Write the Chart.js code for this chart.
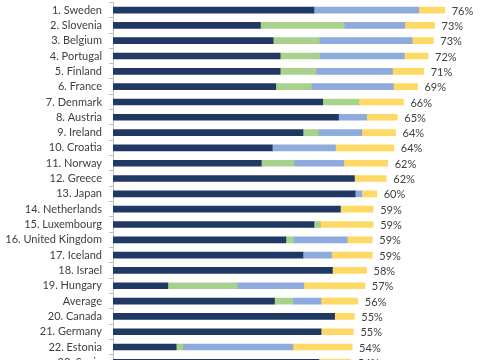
<!DOCTYPE html>
<html>
<head>
<meta charset="utf-8">
<script src="https://cdn.jsdelivr.net/npm/chart.js@4"></script>
<style>
html,body{margin:0;padding:0;background:#fff;overflow:hidden;}
#wrap{width:485px;height:360px;overflow:hidden;position:relative;}
canvas{display:block;}
</style>
</head>
<body>
<div id="wrap"><canvas id="c" width="485" height="370"></canvas></div>
<script>
const categories = ["1. Sweden","2. Slovenia","3. Belgium","4. Portugal","5. Finland","6. France","7. Denmark","8. Austria","9. Ireland","10. Croatia","11. Norway","12. Greece","13. Japan","14. Netherlands","15. Luxembourg","16. United Kingdom","17. Iceland","18. Israel","19. Hungary","Average","20. Canada","21. Germany","22. Estonia","23. Spain"];
const seriesDark   = [45.8,33.6,36.5,38.1,38.1,37.1,47.8,51.4,43.3,36.3,33.8,55.0,55.2,51.8,45.8,39.4,43.3,50.0,12.5,36.8,50.5,47.4,14.4,46.9];
const seriesGreen  = [0,19.1,10.5,9.0,8.2,8.1,8.1,0,3.5,0,7.4,0,0,0,1.4,1.7,0,0,15.8,4.2,0,0,1.5,0];
const seriesBlue   = [23.9,13.8,21.2,19.3,17.4,18.7,0,6.4,9.9,14.4,11.4,0,1.5,0,0,12.3,6.5,0,15.2,6.4,0,0,25.1,0];
const seriesYellow = [5.9,6.8,4.8,5.4,7.1,5.5,10.3,7.0,7.7,13.3,10.0,7.3,3.4,7.5,12.1,5.7,9.3,7.8,13.9,8.4,4.5,7.4,13.5,7.3];
const totalLabels  = ["76%","73%","73%","72%","71%","69%","66%","65%","64%","64%","62%","62%","60%","59%","59%","59%","59%","58%","57%","56%","55%","55%","54%","54%"];

const FONT = "Lato, 'Liberation Sans', sans-serif";

const totalsPlugin = {
  id: 'totals',
  afterDatasetsDraw(chart) {
    const ctx = chart.ctx;
    const xs = chart.scales.x, ys = chart.scales.y;
    ctx.save();
    ctx.font = "11px " + FONT;
    ctx.fillStyle = "#404040";
    ctx.textAlign = "left";
    ctx.textBaseline = "middle";
    categories.forEach((c, i) => {
      const sum = seriesDark[i] + seriesGreen[i] + seriesBlue[i] + seriesYellow[i];
      ctx.fillText(totalLabels[i], xs.getPixelForValue(sum) + 7, ys.getPixelForValue(i) + 1);
    });
    ctx.restore();
  }
};

const common = { barThickness: 6, borderWidth: 0 };
new Chart(document.getElementById('c'), {
  type: 'bar',
  data: {
    labels: categories,
    datasets: [
      Object.assign({ label: 'A', data: seriesDark, backgroundColor: '#203864' }, common),
      Object.assign({ label: 'B', data: seriesGreen, backgroundColor: '#a9d18e' }, common),
      Object.assign({ label: 'C', data: seriesBlue, backgroundColor: '#8faadc' }, common),
      Object.assign({ label: 'D', data: seriesYellow, backgroundColor: '#ffd966' }, common)
    ]
  },
  options: {
    indexAxis: 'y',
    responsive: false,
    animation: false,
    devicePixelRatio: 1,
    layout: { padding: { top: 2.4, right: 21, bottom: 0, left: 0 } },
    plugins: { legend: { display: false }, tooltip: { enabled: false } },
    scales: {
      x: { stacked: true, min: 0, max: 80, display: false },
      y: {
        stacked: true,
        grid: { drawOnChartArea: false, tickLength: 4, color: '#bfbfbf', offset: true },
        border: { display: true, color: '#bfbfbf' },
        ticks: { font: { family: FONT, size: 11 }, color: '#404040', padding: 7, autoSkip: false },
        afterFit(scale) { scale.width = 113; scale.paddingTop = 0; scale.paddingBottom = 0; }
      }
    }
  },
  plugins: [totalsPlugin]
});
</script>
</body>
</html>
